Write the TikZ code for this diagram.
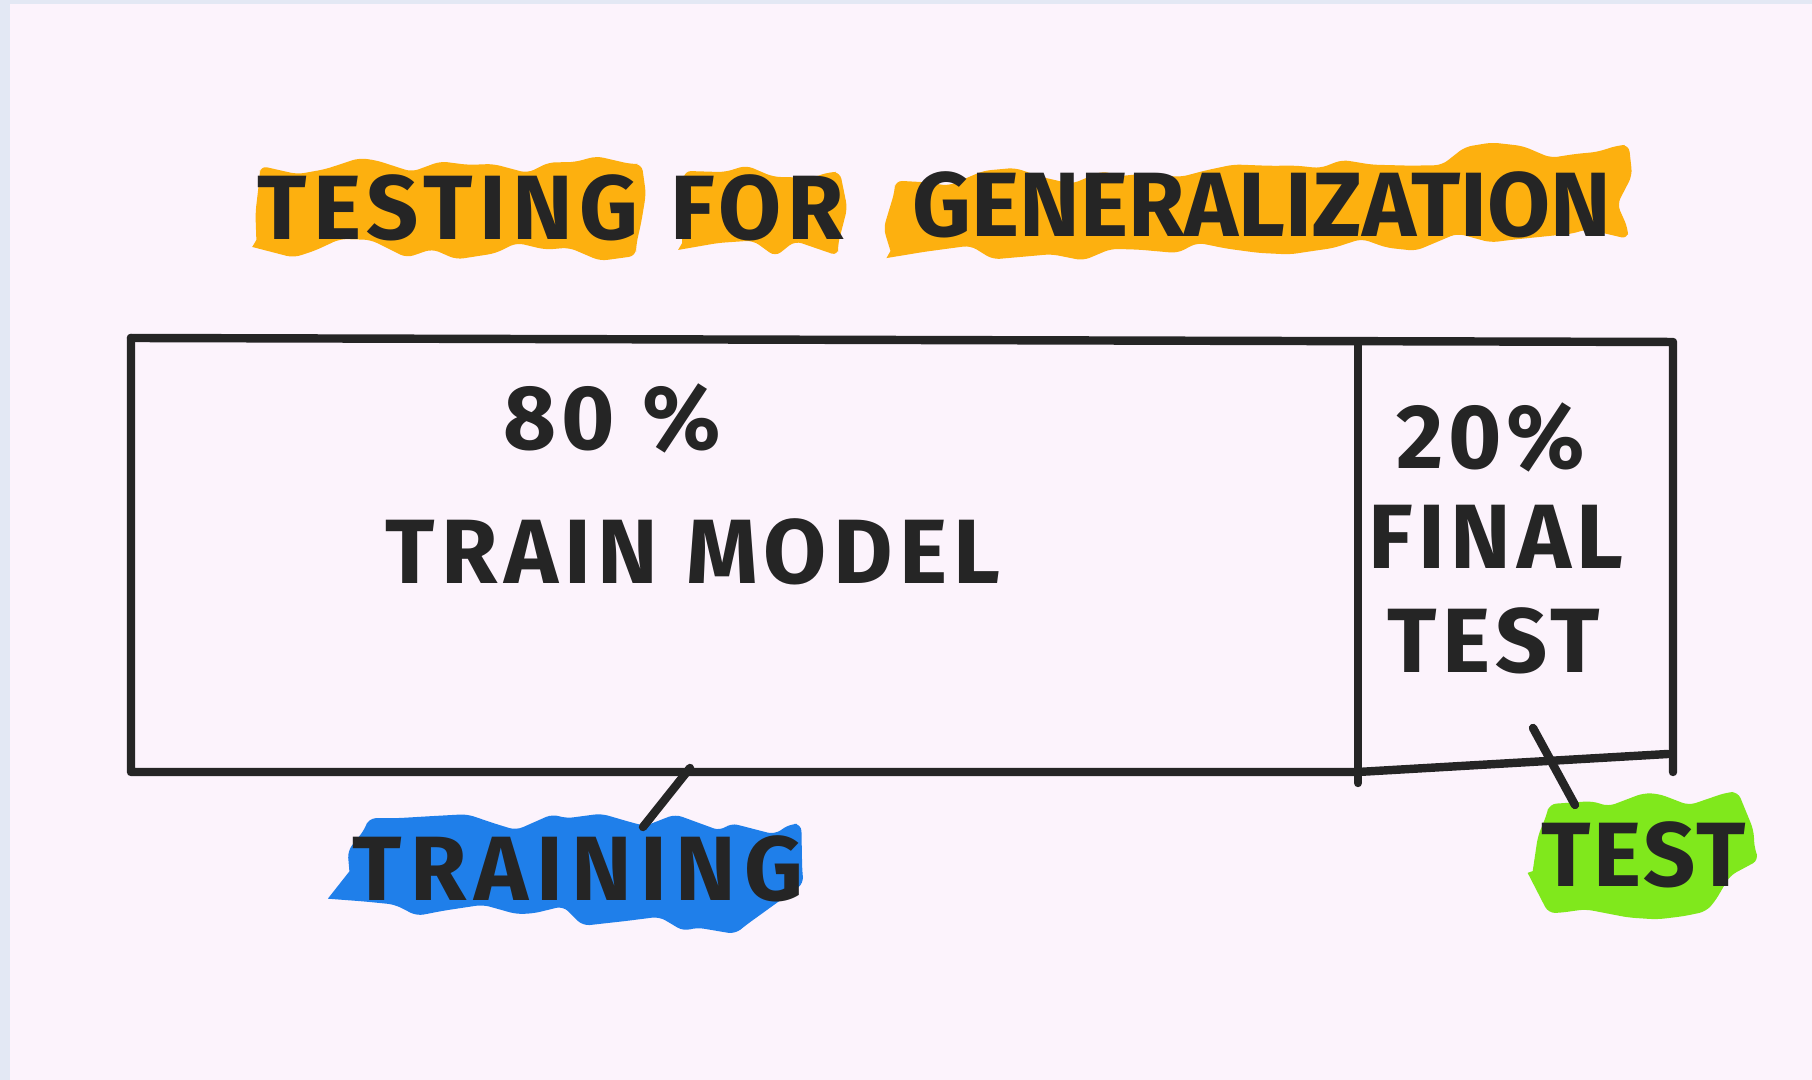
\documentclass[tikz,border=0pt]{standalone}
\usepackage{fontspec}
\setmainfont{Fira Sans}
\usetikzlibrary{decorations.pathmorphing}
\definecolor{paper}{HTML}{FCF3FC}
\definecolor{frame}{HTML}{E3E8F4}
\definecolor{ink}{HTML}{252525}
\definecolor{hlorange}{HTML}{FDB00F}
\definecolor{hlblue}{HTML}{1F7FEA}
\definecolor{hlgreen}{HTML}{80E81C}
\tikzset{
  hand/.style={font=\fontsize{26}{30}\selectfont\bfseries\addfontfeature{LetterSpace=#1}, text=ink, inner sep=0pt},
  hand/.default=6,
  marker/.style={decorate, decoration={random steps, segment length=8pt, amplitude=3pt}, rounded corners=2pt},
  pen/.style={ink, line width=2.4pt, line cap=round, line join=round}
}
\begin{document}
\begin{tikzpicture}
\useasboundingbox (0,0) rectangle (18.12,10.80);
\fill[frame] (0,0) rectangle (18.12,10.80);
\fill[paper] (0.10,0) rectangle (18.12,10.76);
\pgfmathsetseed{7}
\fill[hlorange, marker] (2.56,8.33) -- (2.60,9.10) -- (6.38,9.16) -- (6.36,8.28) -- cycle;
\fill[hlorange, marker] (6.82,8.30) -- (6.84,9.05) -- (8.36,9.08) -- (8.38,8.28) -- cycle;
\fill[hlorange, marker] (8.90,8.22) -- (8.95,8.95) -- (16.25,9.35) -- (16.28,8.45) -- cycle;
\fill[hlblue, marker] (3.47,2.02) -- (3.67,2.57) -- (7.97,2.56) -- (8.03,2.02) -- (7.40,1.50) -- (3.58,1.79) -- cycle;
\fill[hlgreen, marker] (15.31,2.02) -- (15.48,2.71) -- (17.33,2.88) -- (17.57,2.25) -- (17.10,1.73) -- (15.54,1.67) -- cycle;

\node[hand=7] (testing) at (4.48,8.72) {TESTING};
\node[hand=6] (for) at (7.57,8.72) {FOR};
\node[hand=0] (general) at (12.62,8.75) {GENERALIZATION};

\draw[pen] (1.31,7.42) -- (16.73,7.38) -- (16.73,3.08);
\draw[pen] (1.31,7.42) -- (1.31,3.08) -- (13.58,3.08) -- (16.68,3.26);
\draw[pen] (13.58,7.36) -- (13.58,2.97);

\node[hand] (pct80) at (6.12,6.62) {80 \%};
\node[hand=7] (train) at (6.93,5.28) {TRAIN MODEL};
\node[hand=5] (pct20) at (14.91,6.43) {20\%};
\node[hand=6] (final) at (14.96,5.43) {FINAL};
\node[hand=6] (finaltest) at (14.94,4.39) {TEST};

\node[hand=9] (training) at (5.78,2.11) {TRAINING};
\node[hand=3] (test) at (16.44,2.25) {TEST};

\coordinate (traintop) at (6.90,3.12);
\coordinate (trainfoot) at (6.43,2.53);
\coordinate (testtop) at (15.33,3.52);
\coordinate (testfoot) at (15.75,2.75);
\draw[pen] (traintop) -- (trainfoot);
\draw[pen] (testtop) -- (testfoot);
\end{tikzpicture}
\end{document}
